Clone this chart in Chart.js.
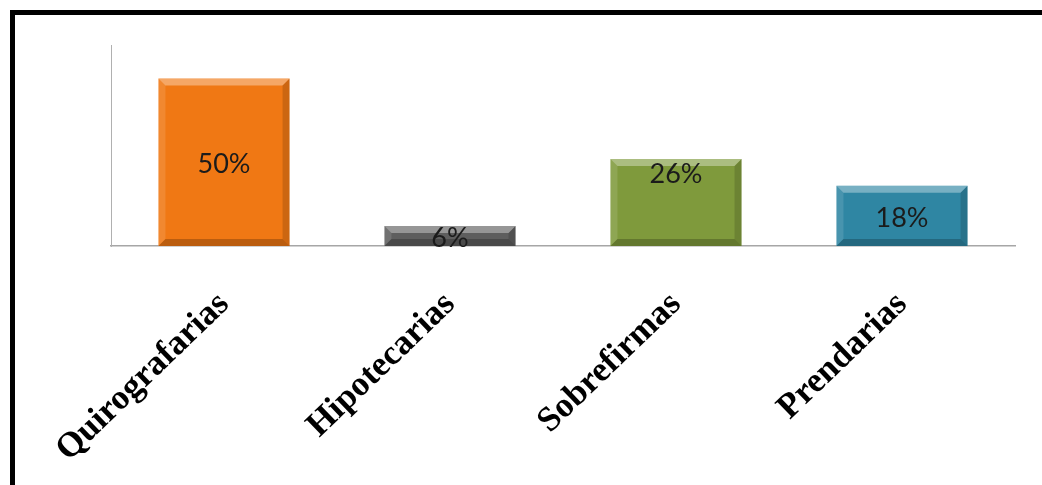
<!DOCTYPE html>
<html>
<head>
<meta charset="utf-8">
<script src="https://cdn.jsdelivr.net/npm/chart.js@4.4.0/dist/chart.umd.min.js"></script>
<style>
  html, body { margin: 0; padding: 0; background: #fff; }
  #frame {
    position: absolute; left: 10px; top: 10px; width: 1032px; height: 475px;
    border-top: 5px solid #000; border-left: 5px solid #000; box-sizing: border-box;
  }
  #wrap { position: absolute; left: 15px; top: 15px; width: 1027px; height: 470px; }
</style>
</head>
<body>
<div id="frame"></div>
<div id="wrap"><canvas id="chart" width="1027" height="470"></canvas></div>
<script>
// Datos
const categories = ['Quirografarias', 'Hipotecarias', 'Sobrefirmas', 'Prendarias'];
const values = [50, 6, 26, 18];
const valueLabels = ['50%', '6%', '26%', '18%'];
const barColors = ['#f07814', '#5e5e5e', '#7f9a3c', '#2f86a3'];

// Bisel y etiquetas dentro de las barras
const bevelPlugin = {
    id: 'bevel',
    afterDatasetsDraw(chart, args, opts) {
        const ctx = chart.ctx;
        const meta = chart.getDatasetMeta(0);
        meta.data.forEach((bar, i) => {
            const w = bar.width;
            const l = bar.x - w / 2, r = bar.x + w / 2, t = bar.y, btm = bar.base;
            const b = Math.min(7, (btm - t) / 2.5);
            const poly = (pts, color) => {
                ctx.beginPath();
                ctx.moveTo(pts[0][0], pts[0][1]);
                pts.slice(1).forEach(p => ctx.lineTo(p[0], p[1]));
                ctx.closePath();
                ctx.fillStyle = color;
                ctx.fill();
            };
            ctx.save();
            poly([[l, t], [r, t], [r - b, t + b], [l + b, t + b]], 'rgba(255,255,255,0.35)');
            poly([[l, t], [l + b, t + b], [l + b, btm - b], [l, btm]], 'rgba(255,255,255,0.12)');
            poly([[r, t], [r, btm], [r - b, btm - b], [r - b, t + b]], 'rgba(0,0,0,0.15)');
            poly([[l, btm], [r, btm], [r - b, btm - b], [l + b, btm - b]], 'rgba(0,0,0,0.22)');

            // etiqueta
            ctx.font = '27px Lato, "Liberation Sans", sans-serif';
            ctx.fillStyle = '#1b1b1b';
            ctx.textAlign = 'center';
            ctx.textBaseline = 'middle';
            const anchor = opts.anchors[i];
            const ty = anchor === 'end' ? t + 15 : (t + btm) / 2 + 2;
            ctx.fillText(valueLabels[i], bar.x, ty);
            ctx.restore();
        });
    }
};

const ctx = document.getElementById('chart').getContext('2d');
new Chart(ctx, {
    type: 'bar',
    data: {
        labels: categories,
        datasets: [{
            data: values,
            backgroundColor: barColors,
            borderWidth: 0,
            categoryPercentage: 1,
            barPercentage: 0.58
        }]
    },
    options: {
        responsive: false,
        devicePixelRatio: 1,
        animation: false,
        layout: { padding: { top: 30, right: 27, left: 0, bottom: 0 } },
        plugins: {
            legend: { display: false },
            tooltip: { enabled: false },
            bevel: { anchors: ['center', 'center', 'end', 'center'] }
        },
        scales: {
            x: {
                grid: { display: false, drawTicks: false },
                border: { display: true, color: '#a6a6a6', width: 1.5 },
                ticks: {
                    autoSkip: false,
                    minRotation: 44,
                    maxRotation: 44,
                    padding: 38,
                    color: '#000',
                    font: { family: '"Liberation Serif", "Times New Roman", serif', weight: 'bold', size: 35 }
                },
                afterFit: s => { s.height = 239; s.paddingLeft = 0; s.paddingRight = 0; }
            },
            y: {
                min: 0,
                max: 60,
                grid: { display: false, drawTicks: false },
                border: { display: true, color: '#b0b0b0', width: 1 },
                ticks: { display: false },
                afterFit: s => { s.width = 96; }
            }
        }
    },
    plugins: [bevelPlugin]
});
</script>
</body>
</html>
